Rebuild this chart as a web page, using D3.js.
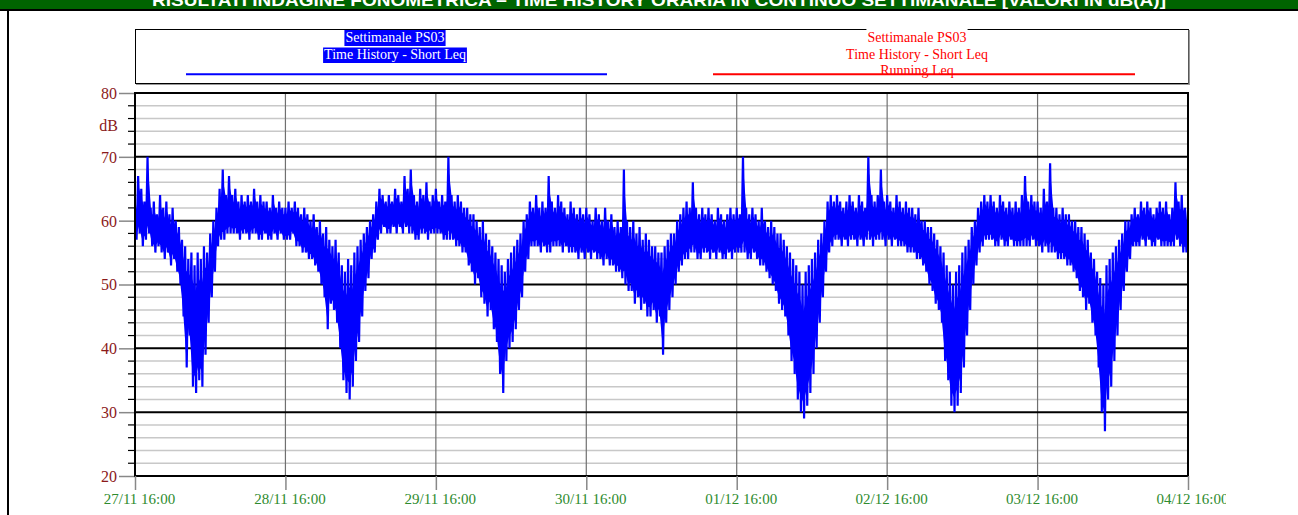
<!DOCTYPE html>
<html><head><meta charset="utf-8">
<script src="https://cdn.jsdelivr.net/npm/d3@7"></script>
<style>body{margin:0;background:#fff;}svg{display:block;}</style>
</head><body>
<svg id="c" width="1298" height="515"></svg>
<script>
// ---------- DATA ----------
const titleText = "RISULTATI INDAGINE FONOMETRICA – TIME HISTORY ORARIA IN CONTINUO SETTIMANALE [VALORI IN dB(A)]";
const legendLeft = ["Settimanale PS03", "Time History - Short Leq"];
const legendRight = ["Settimanale PS03", "Time History - Short Leq", "Running Leq"];
const yTicks = [20, 30, 40, 50, 60, 70, 80];
const xTickLabels = ["27/11 16:00","28/11 16:00","29/11 16:00","30/11 16:00","01/12 16:00","02/12 16:00","03/12 16:00","04/12 16:00"];
const startTime = new Date(2023, 10, 27, 16, 0);
// half-hourly upper envelope (max Short Leq), dB — one row per day
const hiLevels = [
 62,67,65,63,70,62,63,61,64,62,63,61,62,60,59,57,56,54,55,53,55,54,56,55,58,60,62,65,68,64,67,64,65,63,64,63,64,63,65,63,64,63,63,62,64,62,63,62,
 62,63,62,63,62,61,62,61,60,61,59,60,58,59,57,56,57,55,53,52,54,53,55,56,57,58,59,60,61,63,65,64,63,64,63,65,64,63,67,65,68,64,63,65,64,66,63,64,
 65,63,64,63,70,64,63,64,63,62,62,61,61,60,59,60,58,57,56,55,54,53,52,54,55,56,57,58,60,61,63,62,64,62,63,62,67,63,62,64,63,62,61,63,62,61,62,61,
 62,61,60,62,61,60,62,60,61,59,60,59,68,60,59,60,58,59,57,58,57,56,56,55,55,56,57,58,58,60,61,62,63,62,66,62,61,62,61,62,61,60,62,61,60,61,62,61,
 62,61,70,62,61,62,61,60,62,60,59,60,59,58,58,57,56,55,54,53,52,50,52,53,54,55,57,58,60,63,64,63,64,63,62,63,64,63,62,64,63,62,70,64,63,64,68,63,
 64,63,62,64,63,62,63,62,62,61,62,60,60,59,59,58,57,56,55,53,52,50,52,53,55,56,57,59,60,62,63,64,63,64,63,62,64,63,62,63,62,63,62,64,67,63,64,63,
 63,62,65,63,69,62,62,61,62,61,61,60,60,59,59,58,57,55,54,52,51,50,53,54,55,56,57,58,60,60,61,62,61,63,62,63,62,61,62,63,62,63,61,62,66,63,64,62
];
// half-hourly lower envelope (min Short Leq), dB — one row per day
const loLevels = [
 57,58,56,57,58,56,55,56,55,54,55,53,54,52,50,45,37,42,34,33,35,34,39,44,48,52,56,57,57,58,58,58,58,57,58,58,57,58,58,57,57,58,57,57,58,57,58,57,
 57,57,58,56,56,55,55,54,54,53,52,50,48,43,47,46,44,40,35,33,32,34,38,41,45,49,51,54,55,57,58,59,58,58,59,58,59,58,59,58,58,57,57,58,58,57,58,58,
 58,58,57,57,57,57,56,56,55,55,53,52,50,51,48,47,45,46,43,41,36,33,38,40,41,43,46,48,52,54,56,56,56,55,56,55,55,56,56,56,55,56,55,55,55,54,55,54,
 55,54,55,54,54,53,54,53,53,52,52,51,50,49,49,47,48,46,47,45,45,46,44,45,39,44,46,48,50,52,53,54,54,55,55,54,54,55,55,54,55,54,55,54,54,55,54,55,
 55,55,55,54,54,55,54,53,53,52,51,50,49,47,46,45,42,38,36,32,30,29,31,33,36,40,44,48,52,55,56,57,57,56,57,56,57,57,56,57,56,57,57,56,57,57,57,56,
 57,56,57,56,56,56,55,55,55,54,54,53,52,50,49,47,46,44,38,35,31,30,31,33,37,42,46,50,53,55,56,57,57,57,56,56,57,56,56,57,56,56,56,56,56,56,57,56,
 56,55,56,55,55,55,54,54,54,53,53,52,51,49,48,46,47,44,42,37,30,27,32,34,38,42,46,49,52,54,56,56,56,57,56,57,56,56,57,56,56,56,56,56,57,56,55,55
];

// ---------- LAYOUT ----------
const svg = d3.select("#c");
const W = 1298, H = 515;
const plot = {l: 135, r: 1188, t: 93, b: 476};

// header
svg.append("rect").attr("x",0).attr("y",0).attr("width",W).attr("height",10).attr("fill","#006400");
svg.append("text").attr("x",659).attr("y",5.5).attr("text-anchor","middle")
  .attr("font-family","Liberation Sans, Arial, sans-serif").attr("font-weight","bold")
  .attr("font-size",17).attr("fill","#fff").attr("textLength",1014).attr("lengthAdjust","spacingAndGlyphs")
  .text(titleText);
svg.append("line").attr("x1",0).attr("x2",W).attr("y1",10).attr("y2",10).attr("stroke","#000").attr("stroke-width",2);
svg.append("line").attr("x1",8).attr("x2",8).attr("y1",10).attr("y2",H).attr("stroke","#000").attr("stroke-width",2);

// legend box
svg.append("rect").attr("x",135.5).attr("y",29.5).attr("width",1053).attr("height",54)
  .attr("fill","#fff").attr("stroke","#000").attr("stroke-width",1);
svg.append("line").attr("x1",1189).attr("x2",1189).attr("y1",30).attr("y2",85).attr("stroke","#777").attr("stroke-width",1.5);
svg.append("line").attr("x1",136).attr("x2",1189).attr("y1",84.5).attr("y2",84.5).attr("stroke","#999").attr("stroke-width",1);

const serif = "Liberation Serif, Times New Roman, serif";
// left legend (blue background, white text)
const lcx = 395;
legendLeft.forEach((t,i)=>{
  const tx = svg.append("text").attr("x",lcx).attr("y",42+i*16.5).attr("text-anchor","middle")
    .attr("font-family",serif).attr("font-size",14).attr("fill","#fff").text(t);
  const bb = tx.node().getBBox();
  svg.insert("rect", () => tx.node()).attr("x",bb.x-1).attr("y",i===0?30:47.5).attr("width",bb.width+2).attr("height",i===0?16:15.5).attr("fill","#0000ff");
});
svg.append("line").attr("x1",186).attr("x2",607).attr("y1",74.3).attr("y2",74.3).attr("stroke","#0000ff").attr("stroke-width",2);
// right legend (red)
const rcx = 917;
svg.append("line").attr("x1",713).attr("x2",1135).attr("y1",74.3).attr("y2",74.3).attr("stroke","#ff0000").attr("stroke-width",2);
legendRight.forEach((t,i)=>{
  const tx = svg.append("text").attr("x",rcx).attr("y",42+i*16.7).attr("text-anchor","middle")
    .attr("font-family",serif).attr("font-size",14).attr("fill","#ff0000").text(t);
  if(i===0){
    const bb = tx.node().getBBox();
    svg.insert("rect", () => tx.node()).attr("x",bb.x-1).attr("y",28).attr("width",bb.width+2).attr("height",4).attr("fill","#fff");
  }
});

// scales
const endTime = d3.timeHour.offset(startTime, 168);
const x = d3.scaleTime().domain([startTime, endTime]).range([plot.l, plot.r]);
const y = d3.scaleLinear().domain([20, 80]).range([plot.b, plot.t]);

// minor gridlines every 2 dB
const minor = d3.range(20, 81, 2).filter(v => v % 10 !== 0);
svg.append("g").selectAll("line").data(minor).join("line")
  .attr("x1",plot.l).attr("x2",plot.r).attr("y1",d=>y(d)).attr("y2",d=>y(d))
  .attr("stroke","#c8c8c8").attr("stroke-width",1.5);
// minor ticks
svg.append("g").selectAll("line").data(minor).join("line")
  .attr("x1",plot.l-7).attr("x2",plot.l).attr("y1",d=>y(d)).attr("y2",d=>y(d))
  .attr("stroke","#000").attr("stroke-width",1.2);

// vertical day gridlines
const dayTicks = d3.range(8).map(i => d3.timeDay.offset(startTime, i));
svg.append("g").selectAll("line").data(dayTicks.slice(1,7)).join("line")
  .attr("x1",d=>x(d)).attr("x2",d=>x(d)).attr("y1",plot.t).attr("y2",plot.b)
  .attr("stroke","#707070").attr("stroke-width",1.2);

// major gridlines
svg.append("g").selectAll("line").data(yTicks).join("line")
  .attr("x1",plot.l).attr("x2",plot.r).attr("y1",d=>y(d)).attr("y2",d=>y(d))
  .attr("stroke","#000").attr("stroke-width",2);

// y axis (major ticks + labels)
const yAxis = d3.axisLeft(y).tickValues(yTicks).tickSize(16).tickPadding(2).tickFormat(d3.format("d"));
const ya = svg.append("g").attr("transform",`translate(${plot.l},0)`).call(yAxis);
ya.select(".domain").remove();
ya.selectAll(".tick line").attr("stroke","#888").attr("stroke-width",1.5);
ya.selectAll(".tick text").attr("font-family",serif).attr("font-size",16).attr("fill","#8b1a1a").attr("dy","0.34em");
svg.append("text").attr("x",118).attr("y",131).attr("text-anchor","end").attr("font-family",serif)
  .attr("font-size",16).attr("fill","#8b1a1a").text("dB");

// series: zigzag through half-hourly max/min envelope
const pts = [];
hiLevels.forEach((h,i)=>{
  pts.push([d3.timeMinute.offset(startTime, i*30), h]);
  pts.push([d3.timeMinute.offset(startTime, i*30+15), loLevels[i]]);
});
pts.push([endTime, hiLevels[hiLevels.length-1]]);
const area = d3.area().x((d,i)=>x(d3.timeMinute.offset(startTime,i*30+8)))
  .y0((d,i)=>y(loLevels[i] + (hiLevels[i]-loLevels[i])*0.12))
  .y1((d,i)=>y(hiLevels[i] - (hiLevels[i]-loLevels[i])*0.2));
svg.append("path").datum(hiLevels).attr("d",area).attr("fill","#0000ff");
const line = d3.line().x(d=>x(d[0])).y(d=>y(d[1]));
svg.append("path").datum(pts).attr("d",line).attr("fill","none").attr("stroke","#0000ff").attr("stroke-width",2.2);

// frame
svg.append("line").attr("x1",plot.l).attr("x2",plot.l).attr("y1",plot.t-1).attr("y2",plot.b+1).attr("stroke","#000").attr("stroke-width",2);
svg.append("line").attr("x1",plot.r).attr("x2",plot.r).attr("y1",plot.t-1).attr("y2",plot.b+1).attr("stroke","#000").attr("stroke-width",2);

// x axis
svg.append("defs").append("clipPath").attr("id","xc").append("rect").attr("x",0).attr("y",0).attr("width",1226).attr("height",H);
const xAxis = d3.axisBottom(x).tickValues(dayTicks).tickSize(14).tickPadding(3).tickFormat((d,i)=>xTickLabels[i]);
const xa = svg.append("g").attr("transform",`translate(0,${plot.b})`).attr("clip-path","url(#xc)").call(xAxis);
xa.select(".domain").remove();
xa.selectAll(".tick line").attr("stroke","#888").attr("stroke-width",1.5);
xa.selectAll(".tick text").attr("font-family",serif).attr("font-size",15).attr("fill","#2e8b2e").attr("dx",4);
</script>
</body></html>
